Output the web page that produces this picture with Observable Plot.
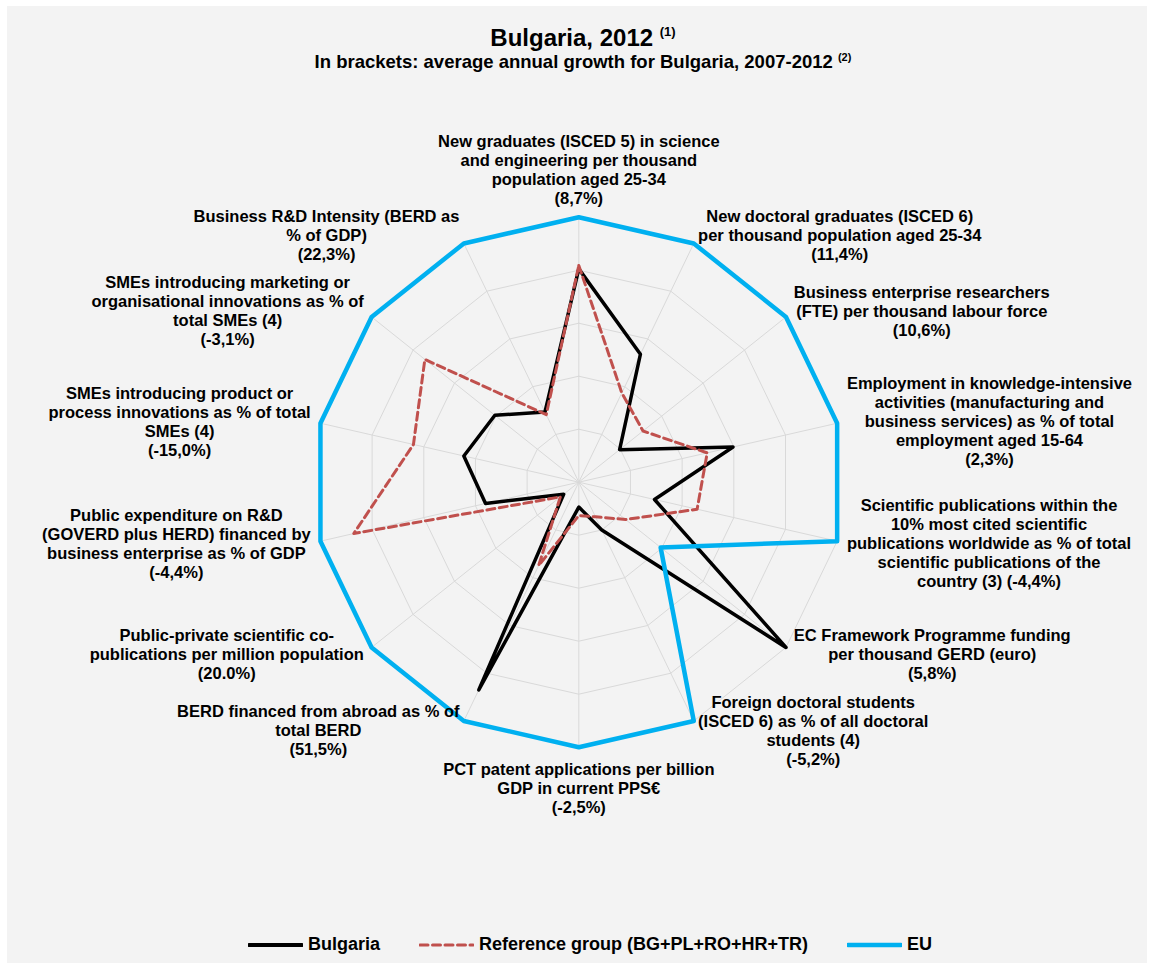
<!DOCTYPE html>
<html>
<head>
<meta charset="utf-8">
<script src="https://cdn.jsdelivr.net/npm/d3@7"></script>
<script src="https://cdn.jsdelivr.net/npm/@observablehq/plot@0.6"></script>
<style>
  body { margin: 0; background: #ffffff; font-family: "Liberation Sans", Arial, sans-serif; }
  #panel { position: absolute; left: 7px; top: 6px; width: 1140px; height: 957px; background: #f3f3f3; overflow: hidden; }
  .ttl { position: absolute; left: 0; width: 1140px; text-align: center; font-weight: bold; color: #000; white-space: nowrap; padding-left: 12px; box-sizing: border-box; }
  #t1 { top: 14px; font-size: 24px; line-height: 24px; }
  #t1 span { font-size: 13px; vertical-align: 10px; }
  #t2 { top: 42px; font-size: 18.5px; line-height: 18px; }
  #t2 span { font-size: 11px; vertical-align: 7px; }
  #chart { position: absolute; left: 0; top: 74px; }
  #legend { position: absolute; left: 0; top: 928px; width: 1140px; display: flex; justify-content: center; align-items: center; padding-left: 26px; box-sizing: border-box; font-weight: bold; font-size: 18px; color: #000; }
  .item { display: flex; align-items: center; margin: 0 19.5px; }
  .item svg { margin-right: 5px; }
</style>
</head>
<body>
<div id="panel">
  <div id="t1" class="ttl">Bulgaria, 2012 <span>(1)</span></div>
  <div id="t2" class="ttl">In brackets: average annual growth for Bulgaria, 2007-2012 <span>(2)</span></div>
  <div id="chart"></div>
  <div id="legend"></div>
</div>
<script>
// ---------------- data ----------------
const indicators = [
  "New graduates (ISCED 5) in science\nand engineering per thousand\npopulation aged 25-34\n(8,7%)",
  "New doctoral graduates (ISCED 6)\nper thousand population aged 25-34\n(11,4%)",
  "Business enterprise researchers\n(FTE) per thousand labour force\n(10,6%)",
  "Employment in knowledge-intensive\nactivities (manufacturing and\nbusiness services) as % of total\nemployment aged 15-64\n(2,3%)",
  "Scientific publications within the\n10% most cited scientific\npublications worldwide as % of total\nscientific publications of the\ncountry (3) (-4,4%)",
  "EC Framework Programme funding\nper thousand GERD (euro)\n(5,8%)",
  "Foreign doctoral students\n(ISCED 6) as % of all doctoral\nstudents (4)\n(-5,2%)",
  "PCT patent applications per billion\nGDP in current PPS€\n(-2,5%)",
  "BERD financed from abroad as % of\ntotal BERD\n(51,5%)",
  "Public-private scientific co-\npublications per million population\n(20.0%)",
  "Public expenditure on R&D\n(GOVERD plus HERD) financed by\nbusiness enterprise as % of GDP\n(-4,4%)",
  "SMEs introducing product or\nprocess innovations as % of total\nSMEs (4)\n(-15,0%)",
  "SMEs introducing marketing or\norganisational innovations as % of\ntotal SMEs (4)\n(-3,1%)",
  "Business R&D Intensity (BERD as\n% of GDP)\n(22,3%)"
];
const bulgaria = [0.805, 0.536, 0.197, 0.597, 0.293, 1.0, 0.20, 0.094, 0.87, 0.073, 0.361, 0.445, 0.405, 0.294];
const referenceGroup = [0.818, 0.374, 0.31, 0.497, 0.458, 0.226, 0.145, 0.126, 0.349, 0.089, 0.871, 0.64, 0.743, 0.283];
const eu = [1, 1, 1, 1, 1, 0.395, 1, 1, 1, 1, 1, 1, 1, 1];
const gridLevels = [0.2, 0.4, 0.6, 0.8, 1.0];
const seriesNames = ["Bulgaria", "Reference group (BG+PL+RO+HR+TR)", "EU"];

// ---------------- layout ----------------
const W = 1140, H = 760, R = 265, CX = 571.3, CY = 401.7;
const N = indicators.length;
const ang = i => i * 2 * Math.PI / N;
const px = (i, v) => v * Math.sin(ang(i));
const py = (i, v) => v * Math.cos(ang(i));

const closed = vals => d3.range(N + 1).map(k => ({i: k % N, v: vals[k % N]}));

const gridData = gridLevels.flatMap(l => d3.range(N + 1).map(k => ({l, i: k % N})));

const labelFont = 16.5, labelLH = 19;
const ctx = document.createElement("canvas").getContext("2d");
ctx.font = `bold ${labelFont}px "Liberation Sans"`;
const gap = 10 / R;

const labelMarks = indicators.map((txt, i) => {
  const s = Math.sin(ang(i)), c = Math.cos(ang(i));
  const w = d3.max(txt.split("\n"), line => ctx.measureText(line).width);
  const side = Math.abs(s) < 1e-6 ? 0 : Math.sign(s);
  const lineAnchor = side !== 0 ? "middle" : (c > 0 ? "bottom" : "top");
  return Plot.text([txt], {
    x: () => (1 + gap) * s,
    y: () => (1 + gap) * c,
    text: d => d,
    textAnchor: "middle",
    lineAnchor,
    dx: side * w / 2,
    dy: side === 0 ? (c > 0 ? -3 : 4) : 0,
    lineHeight: labelLH / labelFont,
    fontSize: labelFont,
    fontWeight: "bold",
    fontFamily: "Liberation Sans, Arial, sans-serif",
    fill: "#000"
  });
});

const chart = Plot.plot({
  width: W,
  height: H,
  margin: 0,
  x: {domain: [-CX / R, (W - CX) / R], axis: null},
  y: {domain: [-(H - CY) / R, CY / R], axis: null},
  style: {background: "transparent", overflow: "visible"},
  marks: [
    Plot.line(gridData, {x: d => px(d.i, d.l), y: d => py(d.i, d.l), z: "l", stroke: "#d9d9d9", strokeWidth: 1}),
    Plot.link(d3.range(N), {x1: () => 0, y1: () => 0, x2: i => px(i, 1), y2: i => py(i, 1), stroke: "#d9d9d9", strokeWidth: 1}),
    Plot.line(closed(bulgaria), {x: d => px(d.i, d.v), y: d => py(d.i, d.v), stroke: "#000000", strokeWidth: 3.5, strokeLinejoin: "round", strokeLinecap: "round"}),
    Plot.line(closed(referenceGroup), {x: d => px(d.i, d.v), y: d => py(d.i, d.v), stroke: "#c0504d", strokeWidth: 3, strokeDasharray: "8,4.5", strokeLinejoin: "round"}),
    Plot.line(closed(eu), {x: d => px(d.i, d.v), y: d => py(d.i, d.v), stroke: "#00b0f0", strokeWidth: 4.5, strokeLinejoin: "round"}),
    ...labelMarks
  ]
});
document.getElementById("chart").appendChild(chart);

// ---------------- legend ----------------
const legendStyles = [
  {stroke: "#000000", width: 4, dash: null},
  {stroke: "#c0504d", width: 3, dash: "8,4.5"},
  {stroke: "#00b0f0", width: 4.5, dash: null}
];
const legend = document.getElementById("legend");
seriesNames.forEach((name, k) => {
  const st = legendStyles[k];
  const item = document.createElement("div");
  item.className = "item";
  item.innerHTML = `<svg width="55" height="20"><line x1="1" x2="54" y1="10" y2="10" stroke="${st.stroke}" stroke-width="${st.width}" ${st.dash ? `stroke-dasharray="${st.dash}"` : ""} stroke-linecap="round"/></svg><span>${name}</span>`;
  legend.appendChild(item);
});
</script>
</body>
</html>
